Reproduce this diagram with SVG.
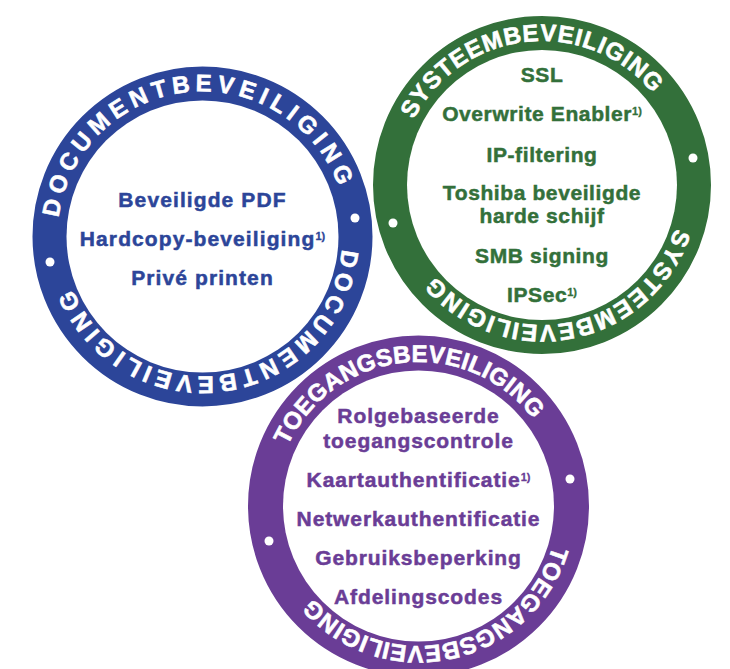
<svg xmlns="http://www.w3.org/2000/svg" xmlns:xlink="http://www.w3.org/1999/xlink" width="730" height="669" viewBox="0 0 730 669">
<style>
.ring-t{font-family:"Liberation Sans",Arial,sans-serif;font-weight:bold;font-size:24px;fill:#ffffff;stroke:#ffffff;stroke-width:0.6px;text-anchor:middle}
.item{font-family:"Liberation Sans",Arial,sans-serif;font-weight:bold;font-size:21px;text-anchor:middle;stroke-width:0.5px}
.sup{font-size:11px;letter-spacing:0;stroke-width:0.3px}
.blue{fill:#2c4599;stroke:#2c4599}
.green{fill:#33703a;stroke:#33703a}
.purple{fill:#6a3d96;stroke:#6a3d96}
.ring{stroke:#ffffff;stroke-width:2px}
.inner{fill:#ffffff}
.dot{fill:#ffffff}
</style>
<defs>
<path id="bTop" d="M347.5 236.5 A145 145 0 1 1 57.5 236.5 A145 145 0 1 1 347.5 236.5"/>
<path id="bBot" d="M342.5 236.5 A140 140 0 1 1 62.5 236.5 A140 140 0 1 1 342.5 236.5"/>
<path id="gTop" d="M686 185 A144 144 0 1 1 398 185 A144 144 0 1 1 686 185"/>
<path id="gBot" d="M682 185 A140 140 0 1 1 402 185 A140 140 0 1 1 682 185"/>
<path id="pTop" d="M562.5 506 A144 144 0 1 1 274.5 506 A144 144 0 1 1 562.5 506"/>
<path id="pBot" d="M558.5 506 A140 140 0 1 1 278.5 506 A140 140 0 1 1 558.5 506"/>
</defs>
<rect width="730" height="669" fill="#ffffff"/>

<g id="documentbeveiliging">
<circle class="blue ring" cx="202.5" cy="236.5" r="171" style="stroke:#ffffff"/>
<circle class="inner" cx="202.5" cy="236.5" r="136"/>
<text class="ring-t" style="letter-spacing:5.1px"><textPath xlink:href="#bTop" href="#bTop" startOffset="73.5%">DOCUMENTBEVEILIGING</textPath></text>
<text class="ring-t" style="letter-spacing:4.4px"><textPath xlink:href="#bBot" href="#bBot" startOffset="22.9%">DOCUMENTBEVEILIGING</textPath></text>
<circle class="dot" cx="50" cy="262" r="4.5"/>
<circle class="dot" cx="355" cy="218" r="4.5"/>
<g class="item blue" style="letter-spacing:1.1px">
<text x="202.5" y="207.3">Beveiligde PDF</text>
<text x="202.5" y="245.7">Hardcopy-beveiliging<tspan class="sup" dy="-6">1)</tspan></text>
<text x="202.5" y="285">Privé printen</text>
</g>
</g>

<g id="systeembeveiliging">
<circle class="green ring" cx="542" cy="185" r="170" style="stroke:#ffffff"/>
<circle class="inner" cx="542" cy="185" r="135"/>
<text class="ring-t" style="letter-spacing:0.9px"><textPath xlink:href="#gTop" href="#gTop" startOffset="73.3%">SYSTEEMBEVEILIGING</textPath></text>
<text class="ring-t" style="letter-spacing:1.6px"><textPath xlink:href="#gBot" href="#gBot" startOffset="21.95%">SYSTEEMBEVEILIGING</textPath></text>
<circle class="dot" cx="693" cy="158" r="4.5"/>
<circle class="dot" cx="393" cy="223" r="4.5"/>
<g class="item green" style="letter-spacing:0.6px">
<text x="542" y="82.3">SSL</text>
<text x="542" y="120.7">Overwrite Enabler<tspan class="sup" dy="-6">1)</tspan></text>
<text x="542" y="162.3">IP-filtering</text>
<text x="542" y="200">Toshiba beveiligde</text>
<text x="542" y="223.3">harde schijf</text>
<text x="542" y="263.3">SMB signing</text>
<text x="542" y="301.7">IPSec<tspan class="sup" dy="-6">1)</tspan></text>
</g>
</g>

<g id="toegangsbeveiliging">
<circle class="purple ring" cx="418.5" cy="506" r="171.5" style="stroke:#ffffff"/>
<circle class="inner" cx="418.5" cy="506" r="135.5"/>
<text class="ring-t" style="letter-spacing:0.3px"><textPath xlink:href="#pTop" href="#pTop" startOffset="73.3%">TOEGANGSBEVEILIGING</textPath></text>
<text class="ring-t" style="letter-spacing:0.4px"><textPath xlink:href="#pBot" href="#pBot" startOffset="21.6%">TOEGANGSBEVEILIGING</textPath></text>
<circle class="dot" cx="570" cy="479" r="4.5"/>
<circle class="dot" cx="269" cy="541" r="4.5"/>
<g class="item purple" style="letter-spacing:0.9px">
<text x="418.5" y="423.3">Rolgebaseerde</text>
<text x="418.5" y="448.3">toegangscontrole</text>
<text x="418.5" y="486.7">Kaartauthentificatie<tspan class="sup" dy="-6">1)</tspan></text>
<text x="418.5" y="525.7">Netwerkauthentificatie</text>
<text x="418.5" y="565">Gebruiksbeperking</text>
<text x="418.5" y="604">Afdelingscodes</text>
</g>
</g>
</svg>
